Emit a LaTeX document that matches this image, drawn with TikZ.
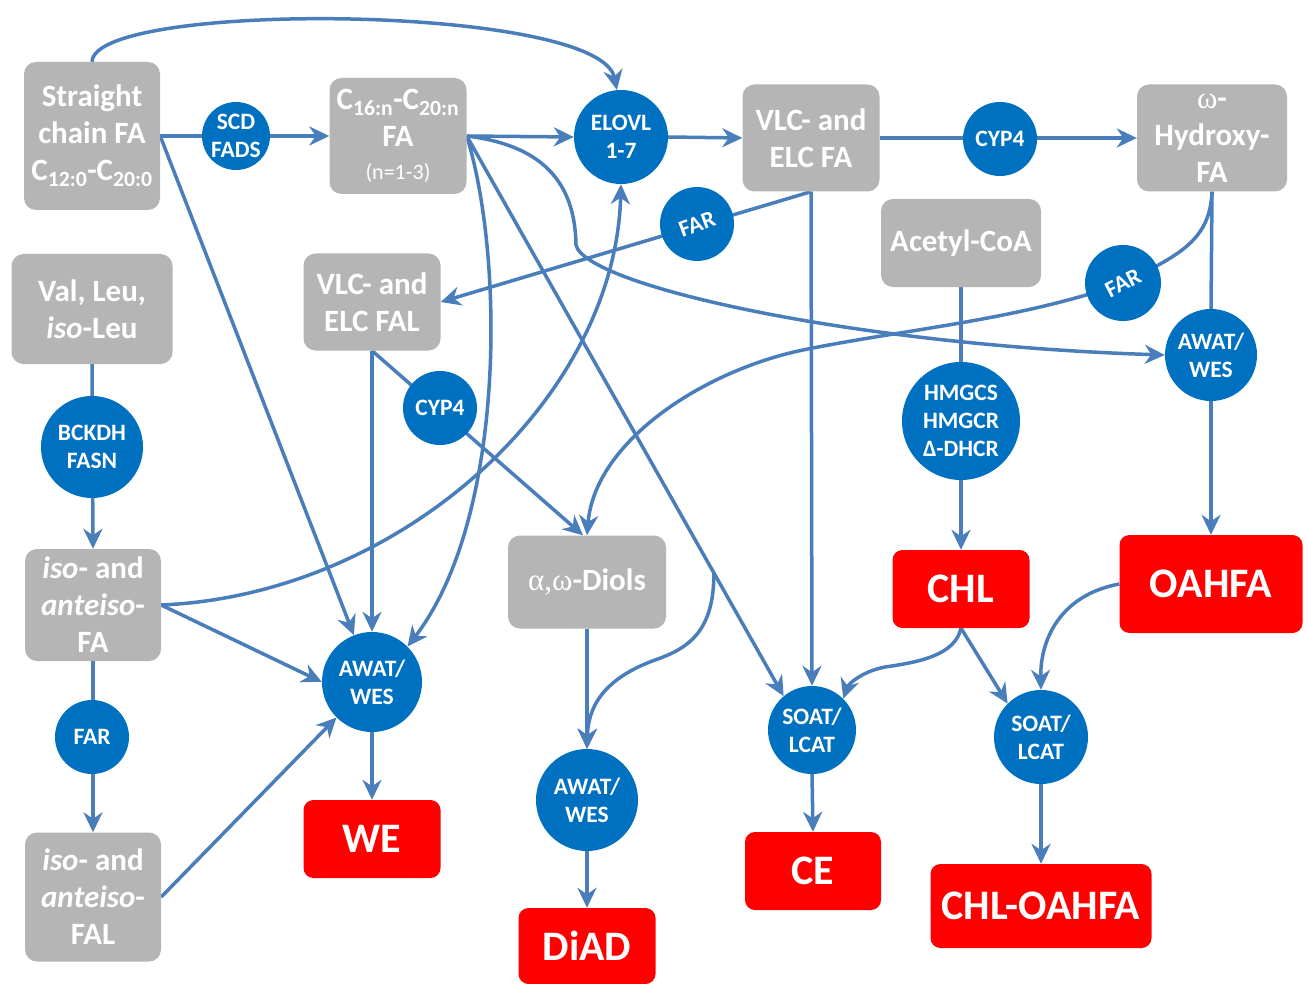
\documentclass[tikz,border=0pt]{standalone}
\usepackage{fontspec}
\setmainfont{Carlito}
\newfontfamily\grk{Liberation Serif}
\usetikzlibrary{arrows.meta,calc}
\definecolor{gbox}{RGB}{181,181,181}
\definecolor{ebl}{RGB}{0,112,192}
\definecolor{lnc}{RGB}{74,126,187}
\definecolor{rbox}{RGB}{255,0,0}
\pgfdeclarelayer{back}\pgfdeclarelayer{bg}
\pgfsetlayers{back,bg,main}
\begin{document}
\begin{tikzpicture}[x=1pt,y=-1pt,
 gbx/.style={rectangle,rounded corners=12pt,fill=gbox,text=white,align=center,inner sep=0pt,font=\bfseries\fontsize{31}{37}\selectfont},
 enz/.style={circle,fill=ebl,text=white,align=center,inner sep=0pt,font=\bfseries\fontsize{23.5}{28}\selectfont},
 prod/.style={rectangle,rounded corners=10pt,fill=rbox,text=white,align=center,inner sep=0pt,font=\bfseries\fontsize{42}{46}\selectfont},
 conn/.style={draw=lnc,line width=3.5pt,-{Stealth[length=20pt,width=19pt,inset=6.5pt]}},
 plain/.style={draw=lnc,line width=3.5pt}]
\useasboundingbox (0,0) rectangle (1308,984);
\begin{pgfonlayer}{back}
\fill[white] (0,0) rectangle (1308,984);
\end{pgfonlayer}
% grey boxes
\node[gbx,minimum width=136pt,minimum height=148pt] (SCFA) at (92,136) {Straight\\chain FA\\C\textsubscript{12:0}-C\textsubscript{20:0}};
\node[gbx,minimum width=137pt,minimum height=116pt] (C16) at (398,136) {C\textsubscript{16:n}-C\textsubscript{20:n}\\FA\\[-4pt]{\mdseries\fontsize{22}{26}\selectfont (n=1-3)}};
\node[gbx,minimum width=137pt,minimum height=107pt] (VLCFA) at (811,138) {VLC- and\\ELC FA};
\node[gbx,minimum width=150pt,minimum height=107pt] (OHFA) at (1212,138) {{\grk\mdseries ω}-\\Hydroxy-\\FA};
\node[gbx,minimum width=161pt,minimum height=110pt] (ValLeu) at (92,309) {Val, Leu,\\\textit{iso}-Leu};
\node[gbx,minimum width=137pt,minimum height=97pt] (VLCFAL) at (372,302) {VLC- and\\ELC FAL};
\node[gbx,minimum width=160pt,minimum height=88pt] (AcCoA) at (961,243) {Acetyl-CoA};
\node[gbx,minimum width=136pt,minimum height=112pt] (isoFA) at (93,605) {\textit{iso}- and\\\textit{anteiso}-\\FA};
\node[gbx,minimum width=158pt,minimum height=93pt] (Diols) at (587,582) {{\grk\mdseries α,ω}-Diols};
\node[gbx,minimum width=136pt,minimum height=129pt] (isoFAL) at (93,897) {\textit{iso}- and\\\textit{anteiso}-\\FAL};
% enzymes
\node[enz,minimum size=68pt] (SCD) at (236,136) {SCD\\FADS};
\node[enz,minimum size=94pt] (ELOVL) at (621,137) {ELOVL\\1-7};
\node[enz,minimum size=74pt] (CYPa) at (1000,139) {CYP4};
\node[enz,minimum size=74pt,rotate=20] (FARa) at (697,224) {FAR};
\node[enz,minimum size=74pt] (CYPb) at (440,408) {CYP4};
\node[enz,minimum size=76pt,rotate=27] (FARb) at (1123,283) {FAR};
\node[enz,minimum size=92pt] (AWATR) at (1211,355) {AWAT/\\WES};
\node[enz,minimum size=118pt] (HMG) at (961,421) {HMGCS\\HMGCR\\Δ-DHCR};
\node[enz,minimum size=102pt] (BCKDH) at (92,447) {BCKDH\\FASN};
\node[enz,minimum size=74pt] (FARc) at (92,737) {FAR};
\node[enz,minimum size=100pt] (AWATL) at (372,682) {AWAT/\\WES};
\node[enz,minimum size=102pt] (AWATD) at (587,800) {AWAT/\\WES};
\node[enz,minimum size=88pt] (SOATa) at (812,730) {SOAT/\\LCAT};
\node[enz,minimum size=94pt] (SOATb) at (1041,737) {SOAT/\\LCAT};
% products
\node[prod,minimum width=137pt,minimum height=78pt] (WE) at (372,839) {WE};
\node[prod,minimum width=137pt,minimum height=76pt] (DiAD) at (587,946) {DiAD};
\node[prod,minimum width=136pt,minimum height=78pt] (CE) at (813,871) {CE};
\node[prod,minimum width=137pt,minimum height=78pt] (CHL) at (961,589) {CHL};
\node[prod,minimum width=183pt,minimum height=98pt] (OAHFA) at (1211,584) {OAHFA};
\node[prod,minimum width=221pt,minimum height=84pt] (CHLOAHFA) at (1041,906) {CHL-OAHFA};
% connectors
\begin{pgfonlayer}{bg}
\draw[conn] (SCFA.north) .. controls (94,0) and (600,4) .. (ELOVL.95);
\draw[conn] (SCFA.east) -- (C16.west);
\draw[conn] (SCFA.east) -- (AWATL);
\draw[conn] (C16.east) -- (ELOVL.west);
\draw[conn] (ELOVL.east) -- (VLCFA.west);
\draw[conn] (VLCFA.east) -- (OHFA.west);
\draw[conn] (VLCFA.south) -- (SOATa.north);
\draw[conn] (VLCFA.south) -- (VLCFAL.east);
\draw[conn] (VLCFAL.south) -- (AWATL.north);
\draw[conn] (VLCFAL.south) -- ([xshift=-4pt]Diols.north);
\draw[conn] (C16.east) .. controls (540,145) and (575,180) .. (576,245)
  .. controls (585,285) and (850,345) .. (AWATR.west);
\draw[conn] (C16.east) .. controls (505,260) and (505,520) .. (AWATL.45);
\draw[conn] (C16.east) -- (SOATa.130);
\coordinate (br) at ($(C16.east)!0.78!(SOATa.130)$);
\draw[conn] (br) .. controls (714,630) and (690,648) .. (655,660)
  .. controls (600,680) and (588,710) .. (AWATD.north);
\draw[conn] (isoFA.east) .. controls (400,595) and (615,400) .. (ELOVL.south);
\draw[conn] (isoFA.east) -- (AWATL.west);
\draw[conn] (isoFAL.east) -- (AWATL.225);
\draw[conn] (ValLeu.south) -- (isoFA.north);
\draw[conn] (isoFA.south) -- (isoFAL.north);
\draw[conn] (AWATL.south) -- (WE.north);
\draw[conn] (Diols.south) -- (AWATD.north);
\draw[conn] (AWATD.south) -- (DiAD.north);
\draw[plain] (OHFA.south) -- (AWATR.north);
\draw[conn] (AWATR.south) -- (OAHFA.north);
\draw[conn] (OHFA.south) .. controls (1210,240) and (1180,255) .. (FARb.center)
  .. controls (1020,320) and (900,330) .. (803,350)
  .. controls (706,370) and (595,440) .. (Diols.north);
\draw[plain] (AcCoA.south) -- (HMG.north);
\draw[conn] (HMG.south) -- (CHL.north);
\draw[conn] (CHL.south) -- (SOATb.135);
\draw[conn] (CHL.south) .. controls (955,655) and (920,662) .. (885,667)
  .. controls (860,672) and (848,685) .. (SOATa.45);
\draw[conn] (OAHFA.west) .. controls (1060,595) and (1040,640) .. (SOATb.north);
\draw[conn] (SOATa.south) -- (CE.north);
\draw[conn] (SOATb.south) -- (CHLOAHFA.north);
\end{pgfonlayer}
\end{tikzpicture}
\end{document}
